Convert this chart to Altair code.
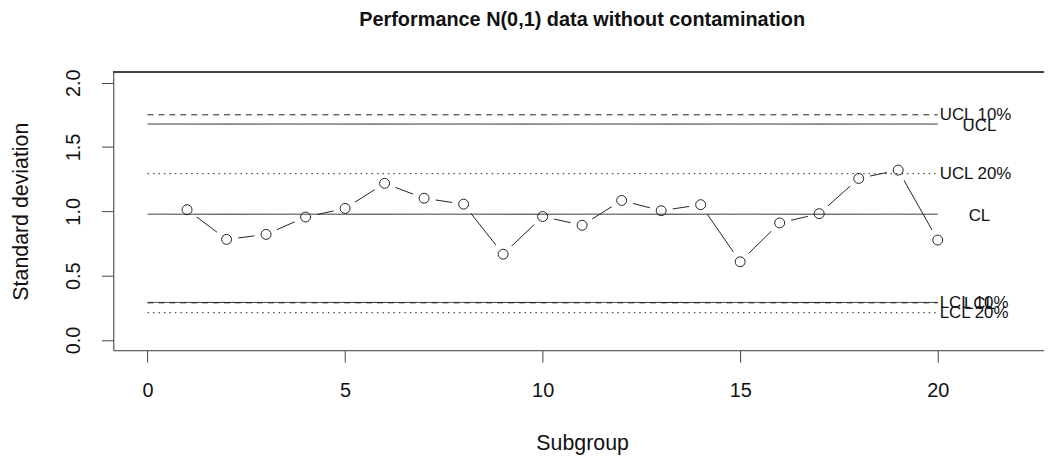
import altair as alt
import pandas as pd

# ---------------- data ----------------
subgroups = list(range(1, 21))
std_dev = [1.013, 0.782, 0.821, 0.956, 1.023, 1.218, 1.102, 1.056, 0.667, 0.960,
           0.892, 1.085, 1.005, 1.052, 0.608, 0.910, 0.982, 1.256, 1.321, 0.777]

limit_names = ["UCL 10%", "UCL", "UCL 20%", "CL", "LCL 10%", "LCL", "LCL 20%"]
limit_values = [1.751, 1.679, 1.293, 0.978, 0.289, 0.292, 0.212]
limit_styles = ["dashed", "solid", "dotted", "solid", "dashed", "solid", "dotted"]
label_place = ["side", "center", "side", "center", "side", "center", "side"]

x_ticks = [0, 5, 10, 15, 20]
y_ticks = [0.0, 0.5, 1.0, 1.5, 2.0]

title_text = "Performance N(0,1) data without contamination"
x_title = "Subgroup"
y_title = "Standard deviation"

# ---------------- layout / style ----------------
FONT = "Liberation Sans"
INK = "#222222"
BOX = "#444444"
W, H = 937, 280
X_DOMAIN = [-0.867, 22.69]
Y_DOMAIN = [-0.0795, 2.083]

df = pd.DataFrame({"subgroup": subgroups, "sd": std_dev})
lim = pd.DataFrame({"name": limit_names, "value": limit_values,
                    "style": limit_styles, "place": label_place})

xs = alt.Scale(domain=X_DOMAIN, nice=False, zero=False)
ys = alt.Scale(domain=Y_DOMAIN, nice=False, zero=False)

xaxis = alt.Axis(values=x_ticks, format="d", title=x_title, grid=False,
                 domain=True, domainColor=BOX, domainWidth=1,
                 ticks=True, tickColor=BOX, tickSize=12, tickWidth=1,
                 labelFont=FONT, labelFontSize=20, labelColor="#111111",
                 labelBaseline="middle", labelPadding=29, labelFlush=False,
                 labelOverlap=False,
                 titleFont=FONT, titleFontSize=21.5, titleFontWeight="normal",
                 titleColor="#111111", titleX=472, titleY=94,
                 titleBaseline="middle", titleAlign="center")

yaxis = alt.Axis(values=y_ticks, format=".1f", title=y_title, grid=False,
                 domain=True, domainColor=BOX, domainWidth=1,
                 ticks=True, tickColor=BOX, tickSize=12, tickWidth=1,
                 labelFont=FONT, labelFontSize=20, labelColor="#111111",
                 labelAngle=270, labelAlign="center", labelBaseline="middle",
                 labelPadding=28, labelFlush=False, labelOverlap=False,
                 titleFont=FONT, titleFontSize=21.5, titleFontWeight="normal",
                 titleColor="#111111", titleAngle=270, titleX=-92, titleY=140,
                 titleBaseline="middle", titleAlign="center")

base = alt.Chart(df).encode(
    x=alt.X("subgroup:Q", scale=xs, axis=xaxis),
    y=alt.Y("sd:Q", scale=ys, axis=yaxis),
)

series = base.mark_line(color=INK, strokeWidth=1)
gaps = base.mark_circle(color="white", opacity=1, size=560)
points = base.mark_point(shape="circle", filled=False, size=100,
                         color=INK, strokeWidth=1, opacity=1)

rules = alt.Chart(lim).mark_rule(color=INK, strokeWidth=1).encode(
    x=alt.datum(0),
    x2=alt.datum(20),
    y=alt.Y("value:Q"),
    strokeDash=alt.StrokeDash(
        "style:N",
        scale=alt.Scale(domain=["solid", "dashed", "dotted"],
                        range=[[1, 0], [6, 5], [1.5, 4]]),
        legend=None),
)

side_labels = alt.Chart(lim).transform_filter(alt.datum.place == "side").mark_text(
    align="left", baseline="middle", dx=2, fontSize=17, font=FONT, color="#111111"
).encode(x=alt.datum(20), y=alt.Y("value:Q"), text="name:N")

center_labels = alt.Chart(lim).transform_filter(alt.datum.place == "center").mark_text(
    align="center", baseline="middle", dx=42, dy=2, fontSize=17, font=FONT,
    color="#111111"
).encode(x=alt.datum(20), y=alt.Y("value:Q"), text="name:N")

box_top = alt.Chart(df).mark_rule(color=BOX, strokeWidth=1).encode(
    x=alt.value(0), x2=alt.value(W), y=alt.value(0)
)

title = alt.Chart(pd.DataFrame({"t": [title_text]})).mark_text(
    align="center", baseline="alphabetic", fontSize=20, fontWeight="bold",
    font=FONT, color="#111111"
).encode(x=alt.value(472), y=alt.value(-46), text="t:N")

chart = alt.layer(
    series, gaps, rules, points, side_labels, center_labels, box_top, title
).properties(
    width=W, height=H,
    autosize=alt.AutoSizeParams(type="none"),
    padding={"left": 106, "top": 63, "right": 0, "bottom": 107},
).configure_view(stroke=None).configure(background="white")

chart.save("out.html", embed_options={"renderer": "svg", "actions": False})
